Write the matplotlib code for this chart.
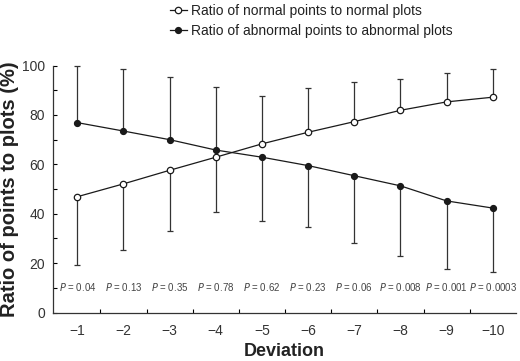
import matplotlib
matplotlib.use("Agg")
import matplotlib.pyplot as plt
import numpy as np

plt.rcParams['font.family'] = ['Liberation Sans', 'DejaVu Sans']

# values
deviation = ['\u22121', '\u22122', '\u22123', '\u22124', '\u22125',
             '\u22126', '\u22127', '\u22128', '\u22129', '\u221210']
normal = [46.9, 52.1, 57.6, 62.9, 68.3, 73.0, 77.3, 81.9, 85.3, 87.2]
normal_bar_end = [19.2, 25.3, 33.0, 40.6, 87.8, 91.1, 93.3, 94.5, 96.8, 98.5]
abnormal = [76.9, 73.5, 70.0, 65.8, 62.9, 59.5, 55.4, 51.3, 45.2, 42.3]
abnormal_bar_end = [100.0, 98.7, 95.5, 91.5, 37.2, 34.6, 28.3, 22.8, 17.7, 16.3]
p_values = ['0.04', '0.13', '0.35', '0.78', '0.62', '0.23', '0.06', '0.008', '0.001', '0.0003']

x = np.arange(len(deviation))

def one_sided(vals, ends):
    vals = np.array(vals)
    ends = np.array(ends)
    lo = np.where(ends < vals, vals - ends, 0)
    hi = np.where(ends > vals, ends - vals, 0)
    return [lo, hi]

fig = plt.figure(figsize=(5.2, 3.61), dpi=100)
ax = fig.add_axes([0.1025, 0.1343, 0.8895, 0.684])

ax.errorbar(x, normal, yerr=one_sided(normal, normal_bar_end), fmt='none',
            ecolor='#333333', elinewidth=0.9, capsize=2.5, capthick=0.9, clip_on=False, zorder=2)
ax.errorbar(x, abnormal, yerr=one_sided(abnormal, abnormal_bar_end), fmt='none',
            ecolor='#333333', elinewidth=0.9, capsize=2.5, capthick=0.9, clip_on=False, zorder=2)

ax.plot(x, normal, '-o', color='#1a1a1a', lw=0.9, ms=4.6, mfc='white', mec='#1a1a1a',
        mew=0.9, label='Ratio of normal points to normal plots', clip_on=False, zorder=3)
ax.plot(x, abnormal, '-o', color='#1a1a1a', lw=0.9, ms=4.2, mfc='#1a1a1a', mec='#1a1a1a',
        label='Ratio of abnormal points to abnormal plots', clip_on=False, zorder=3)

for xi, p in zip(x, p_values):
    ax.text(xi, 10.4, '$P$ = ' + p, ha='center', va='center', fontsize=7, color='#444444')

ax.set_xlim(-0.52, 9.5)
ax.set_ylim(0, 100)
ax.set_xticks(x)
ax.set_xticklabels(deviation)
ax.set_xticks(np.arange(0.5, 9, 1), minor=True)
ax.set_yticks(np.arange(0, 101, 20))
ax.set_yticks(np.arange(10, 100, 20), minor=True)
ax.tick_params(axis='x', which='major', length=0, pad=8, labelsize=10, colors='#333333')
ax.tick_params(axis='x', which='minor', length=3, direction='in', width=0.8)
ax.tick_params(axis='y', which='major', length=3, direction='in', width=0.8, pad=6,
               labelsize=10, labelcolor='#333333')
ax.tick_params(axis='y', which='minor', length=3, direction='in', width=0.8)

for s in ['top', 'right']:
    ax.spines[s].set_visible(False)
for s in ['left', 'bottom']:
    ax.spines[s].set_linewidth(0.9)
    ax.spines[s].set_color('#333333')

ax.set_xlabel('Deviation', fontsize=13, fontweight='bold', color='#222222', labelpad=4)
ax.set_ylabel('Ratio of points to plots (%)', fontsize=14.5, fontweight='bold',
              color='#222222', labelpad=2)

fig.legend(loc='upper left', bbox_to_anchor=(0.327, 0.99), frameon=False, fontsize=10,
           handlelength=1.2, handletextpad=0.3, borderpad=0, borderaxespad=0,
           labelspacing=0.45, labelcolor='#222222')

fig.savefig('out.png', dpi=100)
